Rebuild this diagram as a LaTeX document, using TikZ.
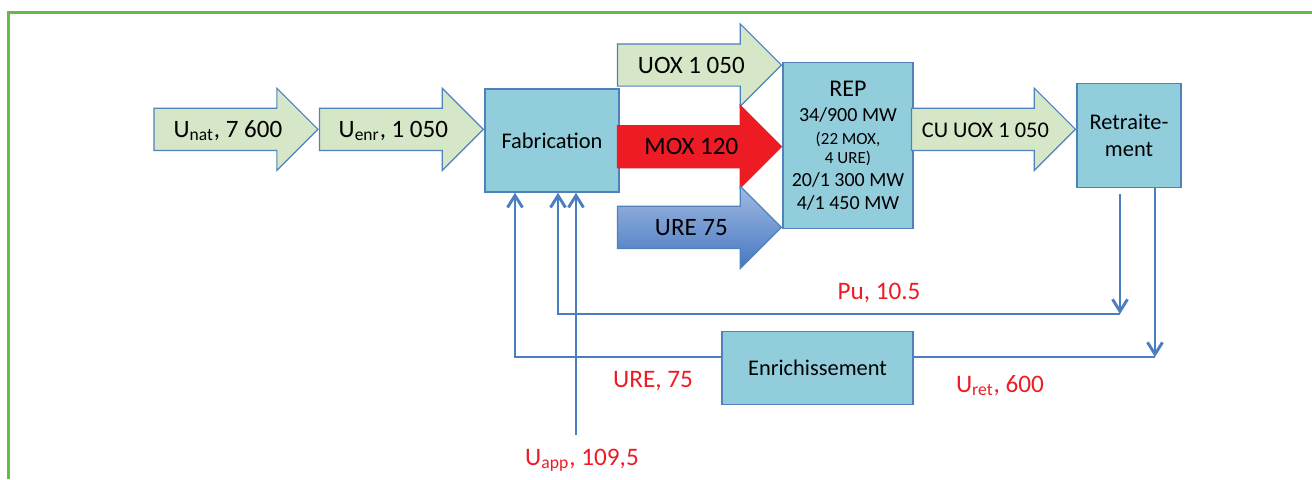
\documentclass[tikz,border=0pt]{standalone}
\usepackage{fontspec}
\setmainfont{Carlito}
\usetikzlibrary{shapes.arrows, arrows.meta, positioning}

\definecolor{fillgreen}{RGB}{214,231,200}
\definecolor{fillaqua}{RGB}{146,205,220}
\definecolor{edgeblue}{RGB}{79,129,189}
\definecolor{linkblue}{RGB}{74,126,193}
\definecolor{moxred}{RGB}{237,28,36}
\definecolor{labelred}{RGB}{237,28,36}
\definecolor{uretop}{RGB}{160,186,226}
\definecolor{urebot}{RGB}{70,120,192}
\definecolor{framegreen}{RGB}{102,187,72}

\tikzset{
  procbox/.style={draw=edgeblue, fill=fillaqua, line width=0.75pt, inner sep=0pt,
    font=\fontsize{11.2}{13.3}\selectfont},
  flowarr/.style={single arrow, draw=edgeblue, line width=0.6pt, anchor=tip,
    single arrow head extend=10pt, minimum height=82pt, minimum width=40.5pt,
    inner xsep=0pt, inner ysep=5.25pt, text height=9pt, text depth=1pt,
    font=\fontsize{12.5}{14}\selectfont},
  greenarr/.style={flowarr, fill=fillgreen},
  feed/.style={draw=linkblue, line width=1.45pt},
  feedtip/.style={feed, -{Straight Barb[length=6pt, width=7.5pt]}},
  redlbl/.style={text=labelred, inner sep=0pt, text height=8.2pt, text depth=0pt,
    font=\fontsize{12.6}{14}\selectfont},
}
\newcommand\arrtext[1]{\makebox[0pt]{\kern2.5pt #1}}

\begin{document}
\begin{tikzpicture}[x=0.5pt, y=-0.5pt]
\useasboundingbox (0,0) rectangle (1312,479);
\draw[framegreen, line width=1.5pt] (8,479) -- (8,12) -- (1312,12);

% process boxes
\node[procbox, minimum width=67pt, minimum height=51.5pt] (fab) at (552,140.5) {Fabrication};
\node[procbox, minimum width=65pt, minimum height=82.8pt, align=center,
  font=\fontsize{10}{11.3}\selectfont] (rep) at (848,145.5)
  {{\fontsize{12}{14}\selectfont REP}\\[1.5pt] 34/900 MW\\
   {\fontsize{8.5}{10}\selectfont (22 MOX,}\\[-1.6pt]
   {\fontsize{8.5}{10}\selectfont 4 URE)}\\ 20/1 300 MW\\ 4/1 450 MW};
\node[procbox, minimum width=52pt, minimum height=52pt, align=center] (ret) at (1129,135.3) {Retraite-\\ment};
\node[procbox, minimum width=95.5pt, minimum height=36.3pt] (enr) at (817.5,368) {Enrichissement};

% material flows
\node[greenarr] (uenr) at (fab.west |- 0,129.3) {\arrtext{U\textsubscript{enr}, 1 050}};
\node[greenarr] (unat) at (uenr.tail) {\arrtext{U\textsubscript{nat}, 7 600}};
\node[greenarr] (uox) at (rep.west |- 0,65) {\arrtext{UOX 1 050}};
\node[flowarr, fill=moxred, draw=moxred] (mox) at (rep.west |- 0,146.7) {\arrtext{MOX 120}};
\node[flowarr, top color=uretop, bottom color=urebot] (ure) at (rep.west |- 0,227.3) {\arrtext{URE 75}};
\node[greenarr, font=\fontsize{11.2}{13}\selectfont] (cuuox) at (ret.west |- 0,129.3) {\arrtext{CU UOX 1 050}};

% recycling loops
\coordinate (pur) at (1120,314);
\coordinate (pul) at (558,314);
\coordinate (retr) at (1155,357);
\coordinate (urel) at (515,357);
\coordinate (app) at (576,435);

\draw[feedtip, shorten <=3pt] (ret.south -| pur) -- (pur);
\draw[feedtip] (pur) -- (pul) -- (pul |- fab.south);
\draw[feedtip] (ret.south -| retr) -- (retr);
\draw[feed] (retr) -- (enr.east |- retr);
\draw[feedtip] (enr.west |- urel) -- (urel) -- (urel |- fab.south);
\draw[feedtip] (app) -- (app |- fab.south);

% quantities
\node[redlbl] (lpu) at (879,291) {Pu, 10.5};
\node[redlbl] (lure) at (653,379) {URE, 75};
\node[redlbl] (lret) at (1000,384) {U\textsubscript{ret}, 600};
\node[redlbl] (lapp) at (582,457) {U\textsubscript{app}, 109,5};
\end{tikzpicture}
\end{document}
